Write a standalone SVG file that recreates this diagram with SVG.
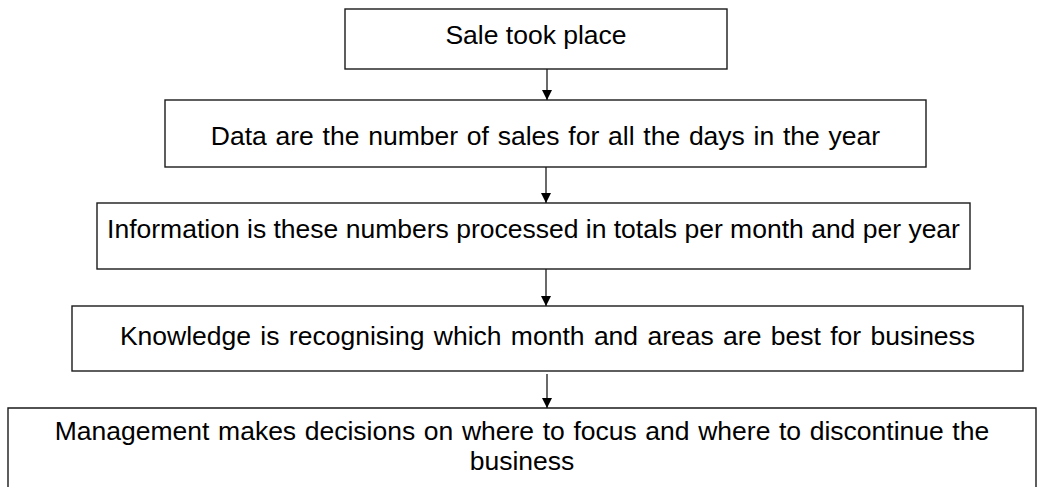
<svg xmlns="http://www.w3.org/2000/svg" width="1037" height="487" viewBox="0 0 1037 487">
<style>
.box{fill:#fff;stroke:#1a1a1a;stroke-width:1.4}
.t{font-family:"Liberation Sans",Arial,sans-serif;font-size:26.5px;fill:#000;text-anchor:middle}
.c{stroke:#1a1a1a;stroke-width:1.3;fill:none;marker-end:url(#ah)}
</style>
<defs>
<marker id="ah" viewBox="0 0 10 10" refX="10" refY="5" markerWidth="10" markerHeight="10" markerUnits="userSpaceOnUse" orient="auto">
<path d="M0,0 L10,5 L0,10 z" fill="#000"/>
</marker>
</defs>
<rect width="1037" height="487" fill="#fff"/>
<g id="n1"><rect class="box" x="345" y="9" width="382" height="60"/><text class="t" x="536" y="44">Sale took place</text></g>
<g id="n2"><rect class="box" x="165" y="100" width="761" height="67"/><text class="t" x="545.5" y="145" word-spacing="1.4">Data are the number of sales for all the days in the year</text></g>
<g id="n3"><rect class="box" x="97" y="203" width="873" height="66"/><text class="t" x="533.5" y="238">Information is these numbers processed in totals per month and per year</text></g>
<g id="n4"><rect class="box" x="72" y="306" width="951" height="65"/><text class="t" x="547.5" y="345" word-spacing="2">Knowledge is recognising which month and areas are best for business</text></g>
<g id="n5"><path class="box" d="M8,492 L8,408 L1036,408 L1036,492"/><text class="t" x="522" y="440" word-spacing="1.25">Management makes decisions on where to focus and where to discontinue the</text><text class="t" x="522" y="470">business</text></g>
<g id="connectors">
<line class="c" x1="547" y1="69" x2="547" y2="100"/>
<line class="c" x1="546" y1="167" x2="546" y2="203"/>
<line class="c" x1="546" y1="269" x2="546" y2="306"/>
<line class="c" x1="547" y1="374" x2="547" y2="408"/>
</g>
</svg>
